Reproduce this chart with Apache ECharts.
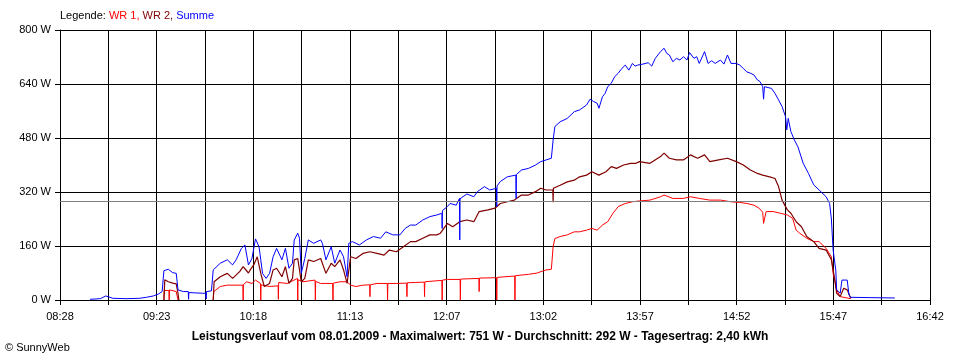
<!DOCTYPE html>
<html><head><meta charset="utf-8">
<script src="https://cdn.jsdelivr.net/npm/echarts@6/dist/echarts.min.js"></script>
<style>html,body{margin:0;padding:0;background:#fff}#c{width:960px;height:360px}</style>
</head><body><div id="c"></div>
<script>
// ---- data ----
var xTickLabels = ['08:28','09:23','10:18','11:13','12:07','13:02','13:57','14:52','15:47','16:42'];
var startTime = '08:28';
var endTime = '16:42';
var averageW = 292;

var sumTimes = ['08:45','08:51','08:54','08:58','09:06','09:13','09:17','09:21','09:24','09:26','09:27','09:29:30','09:32','09:34','09:35','09:38','09:40:50','09:41','09:41:10','09:49','09:50:50','09:51','09:51:10','09:54','09:55','09:59','10:03','10:06','10:08','10:11','10:13','10:15','10:17','10:19','10:21','10:22','10:23','10:25','10:27','10:29','10:31','10:34','10:36','10:38','10:40','10:41','10:43','10:44','10:45','10:47','10:49','10:52','10:56','10:57','10:59','11:02','11:04','11:07','11:09','11:11','11:12','11:14','11:18','11:22','11:26','11:30','11:33','11:37','11:41','11:44','11:47','11:50','11:54','11:58','12:02','12:04:50','12:05','12:05:10','12:08','12:09:30','12:13','12:14:50','12:15','12:15:10','12:19','12:23','12:25','12:29','12:32','12:35:50','12:36','12:36:10','12:38','12:42','12:46:50','12:47','12:47:10','12:50','12:54','12:58','13:01','13:04','13:07','13:08','13:09','13:12','13:16','13:20','13:23','13:27','13:29','13:31','13:33','13:34','13:36','13:37:30','13:39','13:41','13:43','13:45','13:47','13:49','13:51','13:53','13:54:30','13:56','13:59','14:02','14:04','14:06','14:09','14:11','14:12:30','14:14','14:16','14:18','14:20','14:22','14:24','14:25:30','14:28','14:29:30','14:31','14:34','14:36','14:38','14:40','14:43','14:45','14:47','14:49','14:52','14:54','14:56','14:58','15:00','15:02','15:04','15:05:30','15:07','15:07:30','15:08','15:09','15:12','15:14','15:16','15:18','15:20','15:20:40','15:21:30','15:23','15:25','15:27','15:30','15:33','15:36','15:39','15:43','15:45','15:46','15:47','15:48:30','15:49','15:51','15:52','15:55','15:56','15:57','16:08','16:22'];
var sumValues = [2,4,12,5,4,5,8,12,18,25,87,91,81,79,30,25,25,2,22,20,20,3,25,27,89,109,119,104,119,153,163,104,123,181,158,119,79,64,79,128,153,119,153,94,109,178,198,183,79,123,178,168,178,168,119,158,109,148,128,69,168,173,163,178,188,183,202,193,193,212,222,222,237,247,252,257,212,265,277,286,281,301,178,300,314,306,321,336,326,331,277,338,351,365,370,301,372,385,390,400,410,415,420,474,514,528,538,558,563,578,595,588,583,568,602,612,632,642,662,672,686,696,681,701,693,696,699,703,693,716,736,746,731,726,706,716,711,721,711,733,716,721,701,736,701,709,701,711,699,726,701,701,696,686,676,672,667,652,647,632,595,632,632,627,612,593,573,543,504,538,499,474,454,405,375,341,326,306,286,240,148,89,30,20,59,59,15,8,7,6];

var wr1Times = ['09:27','09:27:10','09:29:50','09:30','09:30:10','09:34','09:35','09:35:30','09:55','09:55:20','09:59','10:03','10:08','10:11:50','10:12','10:12:10','10:14','10:17','10:19','10:21:50','10:22','10:22:10','10:27','10:31:50','10:32','10:32:10','10:37','10:42:50','10:43','10:43:10','10:46','10:52:50','10:53','10:53:10','10:56','11:02:50','11:03','11:03:10','11:07','11:11','11:13','11:16','11:20','11:23:50','11:24','11:24:10','11:28','11:33:50','11:34','11:34:10','11:39','11:44:50','11:45','11:45:10','11:50','11:54:50','11:55','11:55:10','12:02','12:04:50','12:05','12:05:10','12:08','12:15:10','12:15:20','12:15:30','12:25:50','12:26','12:26:10','12:35:50','12:36','12:36:10','12:46:10','12:46:20','12:46:30','12:54','12:59','13:01','13:04','13:07','13:08','13:09','13:12','13:16','13:20','13:23','13:27','13:30','13:33','13:36','13:39','13:42','13:45','13:49','13:53','13:56','14:03','14:09','14:11','14:16','14:22','14:26','14:31','14:37','14:43','14:49','14:54','14:58','15:02','15:05','15:07','15:07:30','15:08','15:09','15:13','15:17','15:21','15:24','15:26','15:28','15:32','15:36','15:39','15:43','15:46','15:47','15:49','15:51','15:57'];
var wr1Values = [0,28,28,0,30,25,0,null,0,25,40,44,44,44,0,46,54,49,59,49,0,45,40,42,2,52,49,64,0,60,54,59,0,55,49,49,0,50,54,54,44,40,44,45,10,45,49,49,0,49,49,50,10,51,52,53,10,54,57,58,0,59,61,61,0,62,64,25,65,66,0,67,71,0,72,76,80,84,89,91,158,182,188,193,202,202,207,212,207,222,232,257,277,286,291,293,296,306,311,301,301,306,301,296,296,291,289,286,281,272,260,227,240,262,262,257,252,242,207,198,183,173,173,153,128,79,30,10,4];

var wr2Times = ['09:27','09:27:30','09:29:30','09:32','09:34','09:35','09:35:30','09:36','09:55','09:55:30','09:59','10:03','10:06','10:10','10:12','10:15','10:16','10:18','10:20','10:22','10:24','10:27','10:29','10:31','10:34','10:36','10:38','10:40','10:41','10:43','10:45','10:47','10:49','10:52','10:56','10:57','10:59','11:02','11:04','11:07','11:09','11:11','11:13','11:16','11:20','11:24','11:28','11:32','11:35','11:39','11:43','11:47','11:50','11:54','11:58','12:02','12:04','12:08','12:11','12:15','12:19','12:23','12:26','12:31','12:35','12:38','12:42','12:46','12:50','12:54','12:58','13:01','13:04','13:07:50','13:08','13:08:10','13:12','13:16','13:20','13:23','13:27','13:30','13:34','13:38','13:41','13:44','13:48','13:52','13:55','13:57','14:03','14:09','14:11','14:14','14:18','14:22','14:26','14:30','14:34','14:37','14:42','14:47','14:52','14:56','15:00','15:04','15:07','15:11','15:14','15:16','15:18','15:21','15:23','15:26','15:29','15:32','15:36','15:39','15:43','15:46','15:48','15:49','15:51','15:53','15:55','15:57'];
var wr2Values = [0,60,54,50,48,20,0,null,0,54,69,79,64,84,99,80,89,104,128,79,40,49,89,94,69,99,49,64,119,123,54,64,119,114,123,119,79,109,99,119,89,49,128,123,138,143,138,133,148,143,158,173,173,183,193,193,198,227,217,232,237,232,262,267,272,286,291,296,311,311,321,331,326,326,290,331,340,350,355,365,370,380,370,380,395,390,400,405,405,410,405,425,435,420,415,415,430,420,430,410,415,420,410,400,385,375,370,365,360,336,296,267,257,232,217,188,173,153,148,119,59,20,10,35,30,5];

// ---- helpers ----
function toMin(s){var p=s.split(':');return (+p[0])*60+(+p[1])+(p[2]?(+p[2])/60:0);}
var t0 = toMin(startTime), tEnd = toMin(endTime);
var span = tEnd - t0;              // 494 minutes
var step = span / 18;              // grid step
function pairs(ts, vs){return ts.map(function(t,i){return [toMin(t)-t0, vs[i]];});}

var font = 'Liberation Sans, Arial, sans-serif';
var chart = echarts.init(document.getElementById('c'), null, {renderer:'canvas'});
chart.setOption({
  animation:false,
  backgroundColor:'#ffffff',
  title:[{
    text:'{k|Legende: }{a|WR 1, }{b|WR 2, }{c|Summe}',
    left:60, top:10, padding:0,
    textStyle:{fontWeight:'normal',rich:{
      k:{color:'#000',fontSize:11,fontWeight:'normal',fontFamily:font},
      a:{color:'#ff0000',fontSize:11,fontWeight:'normal',fontFamily:font},
      b:{color:'#800000',fontSize:11,fontWeight:'normal',fontFamily:font},
      c:{color:'#0000ff',fontSize:11,fontWeight:'normal',fontFamily:font}}}
  },{
    text:'Leistungsverlauf vom 08.01.2009 - Maximalwert: 751 W - Durchschnitt: 292 W - Tagesertrag: 2,40 kWh',
    left:'center', top:331, padding:0,
    textStyle:{color:'#000',fontSize:12,fontWeight:'bold',fontFamily:font}
  },{
    text:'© SunnyWeb', left:5, top:342, padding:0,
    textStyle:{color:'#000',fontSize:11,fontWeight:'normal',fontFamily:font}
  }],
  grid:{left:60,right:30,top:30,bottom:60,containLabel:false},
  xAxis:{
    type:'value', min:0, max:span, interval:step,
    axisLine:{show:true,onZero:false,lineStyle:{color:'#000',width:1}},
    axisTick:{show:true,length:5,lineStyle:{color:'#000'}},
    splitLine:{show:true,lineStyle:{color:'#000',width:1}},
    axisLabel:{margin:11,color:'#000',fontSize:11,fontFamily:font,showMinLabel:true,showMaxLabel:true,
      formatter:function(v){var i=Math.round(v/step);return (i%2===0)?(xTickLabels[i/2]||''):'';}}
  },
  yAxis:{
    type:'value', min:0, max:800, interval:160,
    axisLine:{show:true,lineStyle:{color:'#000',width:1}},
    axisTick:{show:true,length:5,lineStyle:{color:'#000'}},
    splitLine:{show:true,lineStyle:{color:'#000',width:1}},
    axisLabel:{margin:9,color:'#000',fontSize:11,fontFamily:font,formatter:'{value} W'}
  },
  series:[
    {type:'line',data:[],silent:true,
     markLine:{silent:true,symbol:['none','none'],label:{show:false},
       lineStyle:{color:'#808080',width:1,type:'solid'},data:[{yAxis:averageW}]}},
    {name:'WR 1',type:'line',data:pairs(wr1Times,wr1Values),showSymbol:false,connectNulls:false,
     lineStyle:{color:'#ff0000',width:1},itemStyle:{color:'#ff0000'}},
    {name:'WR 2',type:'line',data:pairs(wr2Times,wr2Values),showSymbol:false,connectNulls:false,
     lineStyle:{color:'#800000',width:1.2},itemStyle:{color:'#800000'}},
    {name:'Summe',type:'line',data:pairs(sumTimes,sumValues),showSymbol:false,
     lineStyle:{color:'#0000ff',width:1},itemStyle:{color:'#0000ff'}}
  ]
});
</script></body></html>
